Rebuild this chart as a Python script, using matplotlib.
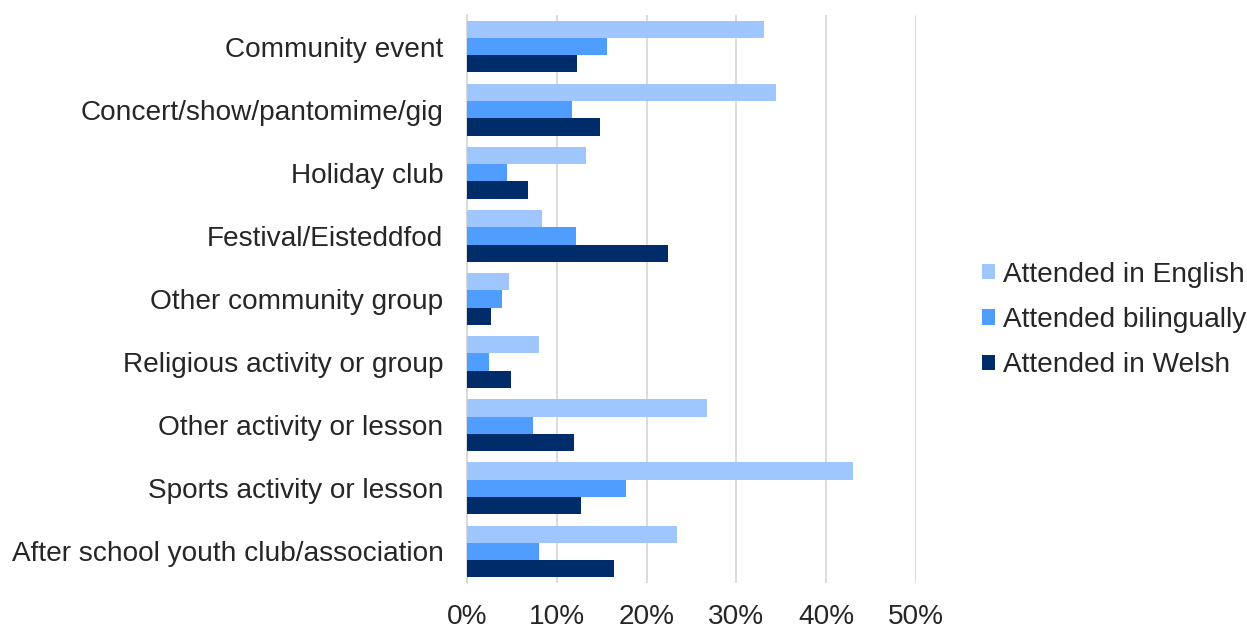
import matplotlib
matplotlib.use("Agg")
import matplotlib.pyplot as plt
import numpy as np
from matplotlib.ticker import PercentFormatter

plt.rcParams['font.family'] = ['Liberation Sans', 'DejaVu Sans']

categories = [
    "Community event",
    "Concert/show/pantomime/gig",
    "Holiday club",
    "Festival/Eisteddfod",
    "Other community group",
    "Religious activity or group",
    "Other activity or lesson",
    "Sports activity or lesson",
    "After school youth club/association",
]
series_names = ["Attended in English", "Attended bilingually", "Attended in Welsh"]
english = [33.1, 34.4, 13.3, 8.4, 4.7, 8.0, 26.7, 43.0, 23.4]
bilingual = [15.6, 11.7, 4.5, 12.1, 3.9, 2.4, 7.4, 17.7, 8.0]
welsh = [12.3, 14.8, 6.8, 22.4, 2.7, 4.9, 11.9, 12.7, 16.4]
x_ticks = [0, 10, 20, 30, 40, 50]

colors = ["#9FC6FE", "#4F9DFE", "#002C69"]
fs = 20.2

fig = plt.figure(figsize=(12.47, 6.30), dpi=100)
ax = fig.add_axes([467 / 1247, 1 - 583 / 630, (916 - 467) / 1247, (583 - 15) / 630])

y = np.arange(len(categories))
bh = 0.274
for i, (vals, name, c) in enumerate(zip([english, bilingual, welsh], series_names, colors)):
    ax.barh(y + (i - 1) * bh, vals, height=bh, color=c, label=name, zorder=3)

ax.set_ylim(len(categories) - 0.5, -0.5)
ax.set_xlim(0, 50)
ax.set_xticks(x_ticks)
ax.xaxis.set_major_formatter(PercentFormatter(decimals=0))
ax.set_yticks(y)
ax.set_yticklabels(categories)
ax.tick_params(axis="both", length=0, labelsize=fs, colors="#262626")
ax.tick_params(axis="y", pad=17)
ax.tick_params(axis="x", pad=15)
ax.grid(axis="x", color="#D9D9D9", linewidth=1.3, zorder=0)
for s in ["top", "right", "bottom"]:
    ax.spines[s].set_visible(False)
ax.spines["left"].set_color("#D9D9D9")
ax.spines["left"].set_linewidth(1.3)

leg = fig.legend(loc="center left", bbox_to_anchor=(971 / 1247, 1 - 320 / 630),
                 frameon=False, fontsize=fs, handlelength=0.45, handleheight=0.45,
                 handletextpad=0.28, labelspacing=0.68, borderaxespad=0)
for t in leg.get_texts():
    t.set_color("#262626")

fig.savefig("out.png", dpi=100, facecolor="white")
